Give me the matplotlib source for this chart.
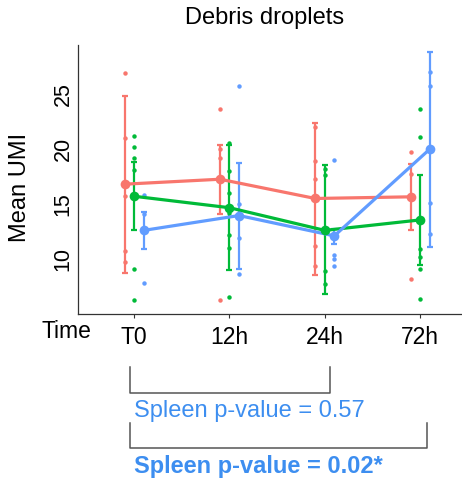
import matplotlib
matplotlib.use("Agg")
import matplotlib.pyplot as plt
import numpy as np
from matplotlib.transforms import blended_transform_factory

plt.rcParams['font.family'] = ['Liberation Sans', 'DejaVu Sans']

times = ["T0", "12h", "24h", "72h"]
series_names = ["Series A", "Series B", "Spleen"]
colors = ["#F8766D", "#00BA38", "#619CFF"]

# means per time point
red_mean = [16.8, 17.25, 15.5, 15.65]
green_mean = [15.7, 14.66, 12.6, 13.55]
blue_mean = [12.6, 13.95, 12.1, 19.97]

# error bar lower / upper bounds
red_low = [8.75, 14.1, 8.55, 12.6]
red_high = [24.8, 20.4, 22.4, 18.6]
green_low = [12.6, 9.0, 6.8, 9.45]
green_high = [18.8, 20.4, 18.55, 17.6]
blue_low = [10.9, 9.05, 11.4, 11.1]
blue_high = [14.3, 18.75, 12.7, 28.85]

# individual observations
red_pts = [[26.9, 21.0, 15.7, 10.7, 9.7],
           [23.6, 20.0, 19.2, 6.3],
           [22.0, 18.9, 17.25, 11.2, 9.4],
           [19.75, 17.7, 8.2]]
green_pts = [[21.2, 20.2, 19.2, 18.1, 9.1, 6.3],
             [20.5, 18.0, 16.0, 14.15, 12.2, 11.0, 6.5],
             [18.15, 17.6, 8.9, 7.7],
             [23.6, 21.1, 10.9, 10.15, 9.1, 6.4]]
blue_pts = [[15.85, 14.1, 7.85],
            [25.7, 15.0, 11.9, 8.6],
            [19.0, 10.35, 10.0, 9.35],
            [27.0, 25.7, 15.05, 12.25]]

pval_labels = ["Spleen p-value = 0.57", "Spleen p-value = 0.02*"]

means = [red_mean, green_mean, blue_mean]
lows = [red_low, green_low, blue_low]
highs = [red_high, green_high, blue_high]
pts = [red_pts, green_pts, blue_pts]
offsets = [-0.1, 0.0, 0.1]

W, H = 462, 480
fig = plt.figure(figsize=(W/100, H/100), dpi=100)
ax = fig.add_axes([78/W, 1-314/H, (461-78)/W, (314-45)/H])

x = np.arange(1, len(times)+1)
for m, lo, hi, p, off, c in zip(means, lows, highs, pts, offsets, colors):
    xs = x + off
    m = np.array(m)
    yerr = [m - np.array(lo), np.array(hi) - m]
    ax.errorbar(xs, m, yerr=yerr, fmt='none', ecolor=c, elinewidth=1.6,
                capsize=2.5, capthick=1.6, zorder=2)
    for xi, pp in zip(xs, p):
        ax.plot([xi]*len(pp), pp, 'o', color=c, ms=3.2, mec='none', zorder=3)
    ax.plot(xs, m, '-', color=c, lw=2.3, zorder=4)
    ax.plot(xs, m, 'o', color=c, ms=7, mec='none', zorder=5)

ax.set_xlim(0.41, 4.43)
ax.set_ylim(5.0, 29.45)
ax.set_xticks(x)
ax.set_xticklabels(times, fontsize=16.5)
ax.set_yticks([10, 15, 20, 25])
ax.set_yticklabels(["10", "15", "20", "25"], fontsize=15.5, rotation=90, va='center')
ax.tick_params(axis='y', length=0, pad=3)
ax.tick_params(axis='x', length=3, width=0.8, color='#333333', pad=6)
for s in ['top', 'right']:
    ax.spines[s].set_visible(False)
for s in ['left', 'bottom']:
    ax.spines[s].set_color('#333333')
    ax.spines[s].set_linewidth(0.9)

fig.text(20/W, 1-187/H, "Mean UMI", rotation=90, ha='center', va='center', fontsize=17)
fig.text(265/W, 1-18/H, "Debris droplets", ha='center', va='center', fontsize=17)
fig.text(66/W, 1-332/H, "Time", ha='center', va='center', fontsize=16.5)

# comparison brackets
pval_color = "#3D8EF0"
brk = '#555555'
tr = blended_transform_factory(ax.transData, fig.transFigure)

def bracket(x0, x1, ytop_px, ybot_px):
    ax.plot([x0, x0, x1, x1],
            [1-ytop_px/H, 1-ybot_px/H, 1-ybot_px/H, 1-ytop_px/H],
            color=brk, lw=1.1, clip_on=False, transform=tr)

bracket(0.96, 3.05, 367, 393)
bracket(0.96, 4.07, 423, 448)
fig.text(134/W, 1-411/H, pval_labels[0], ha='left', va='center',
         fontsize=17, color=pval_color)
fig.text(134/W, 1-467/H, pval_labels[1], ha='left', va='center',
         fontsize=17, color=pval_color, fontweight='bold')

fig.savefig("out.png", dpi=100)
